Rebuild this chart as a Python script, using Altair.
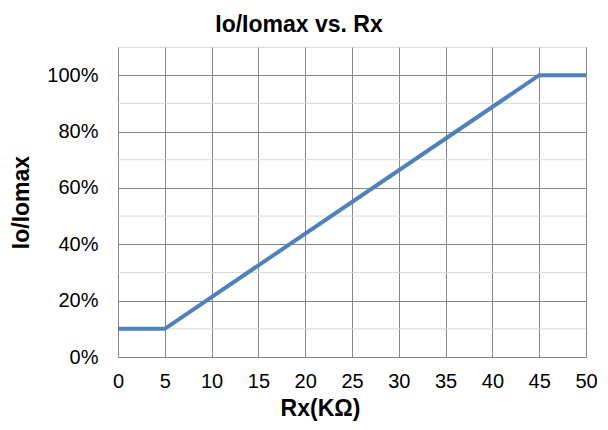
import altair as alt
import pandas as pd

rx = [0, 5, 45, 50]
ratio = [0.10, 0.10, 1.00, 1.00]
x_ticks = [0, 5, 10, 15, 20, 25, 30, 35, 40, 45, 50]
y_major = [0.0, 0.2, 0.4, 0.6, 0.8, 1.0]
y_minor = [0.1, 0.3, 0.5, 0.7, 0.9]

FONT = "Liberation Sans"

line_df = pd.DataFrame({"rx": rx, "ratio": ratio})
minor_df = pd.DataFrame({"v": y_minor})

xscale = alt.Scale(domain=[0, 50], nice=False)
yscale = alt.Scale(domain=[0, 1.1], nice=False)

y_axis = alt.Axis(
    values=y_major,
    format=".0%",
    title="Io/Iomax",
    grid=True,
    gridColor="#868686",
    gridWidth=1,
    ticks=False,
    domain=False,
    labelFontSize=20,
    labelFont=FONT,
    labelColor="#000000",
    labelPadding=20,
    labelFlush=False,
    titleFont=FONT,
    titleFontSize=23,
    titleFontWeight="bold",
    titleColor="#000000",
    titlePadding=13,
)

x_axis = alt.Axis(
    values=x_ticks,
    title="Rx(KΩ)",
    grid=True,
    gridColor="#868686",
    gridWidth=1,
    ticks=False,
    domain=False,
    labelFontSize=20,
    labelFont=FONT,
    labelColor="#000000",
    labelPadding=14,
    labelFlush=False,
    titleFont=FONT,
    titleFontSize=23,
    titleFontWeight="bold",
    titleColor="#000000",
    titleX=202,
    titlePadding=6,
)

minor = alt.Chart(minor_df).mark_rule(color="#d9d9d9", strokeWidth=1).encode(
    y=alt.Y("v:Q", scale=yscale, axis=y_axis)
)

line = alt.Chart(line_df).mark_line(color="#4F81BD", strokeWidth=4).encode(
    x=alt.X("rx:Q", scale=xscale, axis=x_axis),
    y=alt.Y("ratio:Q", scale=yscale, axis=y_axis),
)

chart = (
    alt.layer(minor, line)
    .properties(
        width=468,
        height=310,
        title=alt.TitleParams(
            "Io/Iomax vs. Rx",
            font=FONT,
            fontSize=23,
            fontWeight="bold",
            color="#000000",
            dx=-53,
            offset=10,
        ),
        autosize=alt.AutoSizeParams(type="none"),
        padding={"left": 110, "top": 39, "right": 14, "bottom": 65},
    )
    .configure_view(stroke="#d9d9d9", strokeWidth=1)
    .configure(background="#ffffff")
)

chart.save("out.html", embed_options={"renderer": "svg", "actions": False})
